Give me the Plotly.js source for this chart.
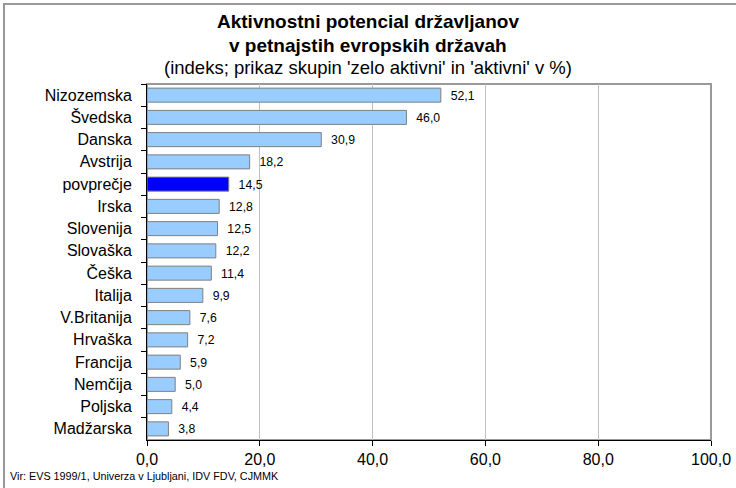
<!DOCTYPE html>
<html>
<head>
<meta charset="utf-8">
<script src="https://cdn.plot.ly/plotly-3.0.1.min.js"></script>
<style>html,body{margin:0;padding:0;background:#fff;}#chart{width:736px;height:488px;}</style>
</head>
<body>
<div id="chart"></div>
<script>
const categories = ["Nizozemska","Švedska","Danska","Avstrija","povprečje","Irska","Slovenija","Slovaška","Češka","Italija","V.Britanija","Hrvaška","Francija","Nemčija","Poljska","Madžarska"];
const values = [52.1,46.0,30.9,18.2,14.5,12.8,12.5,12.2,11.4,9.9,7.6,7.2,5.9,5.0,4.4,3.8];
const highlight = "povprečje";
const xTicks = [0,20,40,60,80,100];

const titleLine1 = "Aktivnostni potencial državljanov";
const titleLine2 = "v petnajstih evropskih državah";
const subtitle = "(indeks; prikaz skupin 'zelo aktivni' in 'aktivni' v %)";
const source = "Vir: EVS 1999/1, Univerza v Ljubljani, IDV FDV, CJMMK";

const barColors = categories.map(c => c === highlight ? "#0000FF" : "#99CCFF");
const labels = values.map(v => "\u00a0\u00a0" + v.toFixed(1).replace(".", ","));

const FONT = "Liberation Sans, Arial, sans-serif";

// plot area geometry (pixels) used to place the free texts
const L = 147, R = 25, T = 84, B = 48, W = 736, H = 488;
const pw = W - L - R, ph = H - T - B;
const px = x => (x - L) / pw;
const py = y => 1 + (T - y) / ph;

const trace = {
  type: "bar",
  orientation: "h",
  y: categories,
  x: values,
  marker: {color: barColors, line: {color: "#808080", width: 1}},
  width: 0.63,
  text: labels,
  textposition: "outside",
  cliponaxis: false,
  textfont: {family: FONT, size: 14, color: "#000"},
  hoverinfo: "none"
};

const layout = {
  width: W, height: H,
  margin: {l: L, r: R, t: T, b: B},
  paper_bgcolor: "#fff", plot_bgcolor: "#fff",
  separators: ", ",
  font: {family: FONT, color: "#000"},
  showlegend: false,
  xaxis: {
    range: [0, 100],
    tickvals: xTicks,
    tickformat: ".1f",
    showgrid: true, gridcolor: "#C0C0C0", gridwidth: 1,
    zeroline: false,
    showline: true, linecolor: "#000", linewidth: 1,
    ticks: "outside", ticklen: 5, tickcolor: "#000",
    tickfont: {family: FONT, size: 16},
    fixedrange: true
  },
  yaxis: {
    type: "category",
    autorange: "reversed",
    showline: true, linecolor: "#000", linewidth: 1,
    ticks: "outside", ticklen: 5, tickcolor: "#000",
    tickson: "boundaries",
    showgrid: false,
    tickfont: {family: FONT, size: 16},
    ticklabelstandoff: 11,
    fixedrange: true
  },
  shapes: [
    {type: "rect", xref: "paper", yref: "paper", x0: 0, x1: 1, y0: 0, y1: 1, line: {color: "#999", width: 2}, layer: "below"},
    {type: "rect", xref: "paper", yref: "paper", x0: px(4), x1: px(760), y0: py(520), y1: py(4), line: {color: "#999", width: 2}, layer: "below"}
  ],
  annotations: [
    {text: "<b>" + titleLine1 + "</b>", xref: "paper", yref: "paper", x: px(368), y: py(22),
     xanchor: "center", yanchor: "middle", showarrow: false, font: {family: FONT, size: 19, color: "#000"}},
    {text: "<b>" + titleLine2 + "</b>", xref: "paper", yref: "paper", x: px(368), y: py(45),
     xanchor: "center", yanchor: "middle", showarrow: false, font: {family: FONT, size: 19, color: "#000"}},
    {text: subtitle, xref: "paper", yref: "paper", x: px(368), y: py(67),
     xanchor: "center", yanchor: "middle", showarrow: false, font: {family: FONT, size: 18.5, color: "#000"}},
    {text: source, xref: "paper", yref: "paper", x: px(8), y: py(476),
     xanchor: "left", yanchor: "middle", showarrow: false, font: {family: FONT, size: 10.8, color: "#000"}}
  ]
};

Plotly.newPlot("chart", [trace], layout, {displayModeBar: false, staticPlot: true});
</script>
</body>
</html>
